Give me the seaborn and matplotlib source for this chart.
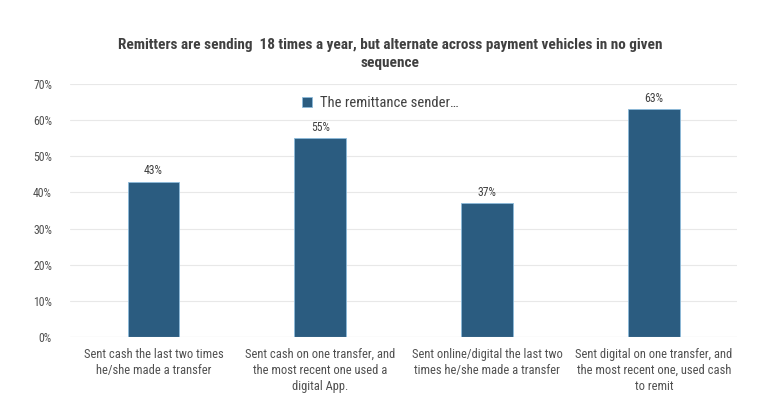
import pandas as pd
import matplotlib.pyplot as plt
import seaborn as sns

# Chart data
categories = [
    "Sent cash the last two times\nhe/she made a transfer",
    "Sent cash on one transfer, and\nthe most recent one used a\ndigital App.",
    "Sent online/digital the last two\ntimes he/she made a transfer",
    "Sent digital on one transfer, and\nthe most recent one, used cash\nto remit",
]
shares = [43, 55, 37, 63]
series_name = "The remittance sender…"
yticks = [0, 10, 20, 30, 40, 50, 60, 70]

df = pd.DataFrame({"category": categories, "share": shares, "series": series_name})

sns.set_style("white")
plt.rcParams['font.family'] = ['Roboto Condensed', 'DejaVu Sans']
text_col = '#404040'
tick_col = '#505050'

fig = plt.figure(figsize=(7.81, 4.2), dpi=100)
ax = fig.add_axes([0.0896, 0.1976, 0.8544, 0.6024])

sns.barplot(data=df, x='category', y='share', hue='series', palette=['#2B5C80'],
            saturation=1, width=0.31, edgecolor='#8CBBDB', linewidth=0.6, ax=ax)

for i, v in enumerate(shares):
    ax.text(i, v + 1.2, f"{v}%", ha='center', va='bottom', fontsize=8.5, color=text_col)

ax.set_ylim(0, 70)
ax.set_xlim(-0.5, 3.5)
ax.set_yticks(yticks)
ax.set_yticklabels([f"{t}%" for t in yticks], fontsize=8.5, color=tick_col)
ax.tick_params(axis='x', labelsize=9, colors=tick_col, length=0, pad=8)
for lbl in ax.get_xticklabels():
    lbl.set_linespacing(1.3)
ax.tick_params(axis='y', length=0, pad=13)
ax.yaxis.grid(True, color='#E8E8E8', linewidth=0.8)
ax.set_axisbelow(True)
for s in ax.spines.values():
    s.set_visible(False)
ax.axhline(0, color='#D9D9D9', linewidth=0.8)
ax.set_xlabel('')
ax.set_ylabel('')

leg = ax.legend(loc='upper center', bbox_to_anchor=(0.465, 1.005), frameon=False,
                fontsize=10.5, handlelength=0.7, handleheight=0.7, handletextpad=0.5)
for t in leg.get_texts():
    t.set_color(text_col)

fig.text(0.5, 0.872, "Remitters are sending  18 times a year, but alternate across payment vehicles in no given\nsequence",
         ha='center', va='center', fontsize=11, fontweight='bold', color=text_col, linespacing=1.4)

fig.savefig('out.png', dpi=100)
